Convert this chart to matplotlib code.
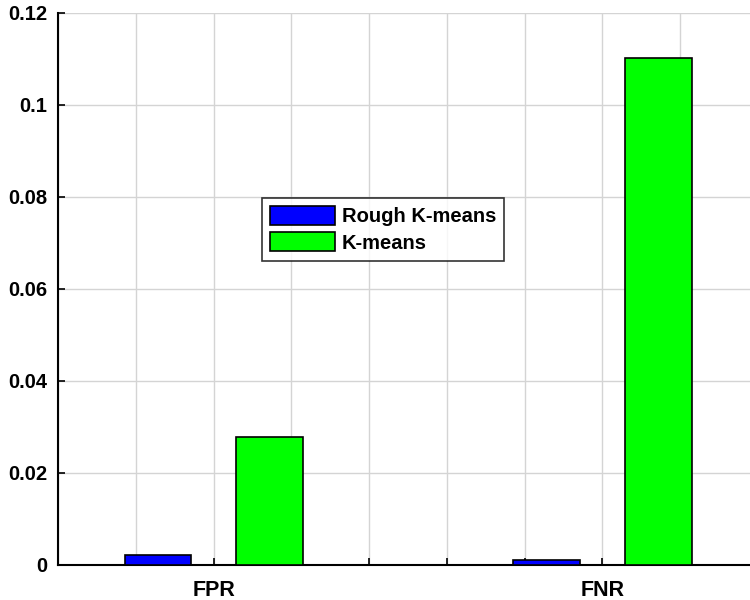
import matplotlib
matplotlib.use("Agg")
import matplotlib.pyplot as plt
import numpy as np

# данные
categories = ["FPR", "FNR"]
rough_kmeans = [0.0022, 0.0011]
kmeans = [0.0278, 0.1102]
series_names = ["Rough K-means", "K-means"]

plt.rcParams["font.family"] = ["Liberation Sans", "DejaVu Sans"]
plt.rcParams["font.weight"] = "bold"

fig = plt.figure(figsize=(7.5, 6), dpi=100)
ax = fig.add_axes([58 / 750, 35 / 600, 700 / 750, 552 / 600])

x = np.arange(1, len(categories) + 1)
w = 0.172
off = 0.143
ax.bar(x - off, rough_kmeans, w, color="#0000ff", edgecolor="black", linewidth=1.2,
       label=series_names[0], zorder=3)
ax.bar(x + off, kmeans, w, color="#00ff00", edgecolor="black", linewidth=1.2,
       label=series_names[1], zorder=3)

ax.set_xlim(0.6, 2.4)
ax.set_ylim(0, 0.12)
xt = np.round(np.arange(0.6, 2.41, 0.2), 2)
ax.set_xticks(xt)
ax.set_xticklabels([categories[int(t) - 1] if abs(t - round(t)) < 1e-6 else "" for t in xt],
                   fontsize=15.5, fontweight="bold")
ax.set_yticks(np.arange(0, 0.121, 0.02))
ax.set_yticklabels(["0", "0.02", "0.04", "0.06", "0.08", "0.1", "0.12"],
                   fontsize=14.5, fontweight="bold")
ax.tick_params(direction="in", length=5, width=1.2, pad=8)
ax.tick_params(axis="x", pad=11)

ax.grid(True, color="#d4d4d4", linewidth=1.0, zorder=0)
ax.set_axisbelow(True)
for s in ["top", "right"]:
    ax.spines[s].set_visible(False)
for s in ["left", "bottom"]:
    ax.spines[s].set_linewidth(1.5)

leg = ax.legend(loc="upper left", bbox_to_anchor=((262 - 58) / 700, (565 - 198) / 552),
                prop={"weight": "bold", "size": 14.5}, frameon=True, fancybox=False,
                edgecolor="black", handlelength=3.2, handleheight=1.05, borderpad=0.4,
                labelspacing=0.3, handletextpad=0.35, borderaxespad=0)
leg.get_frame().set_linewidth(1.2)

fig.savefig("out.png", dpi=100)
